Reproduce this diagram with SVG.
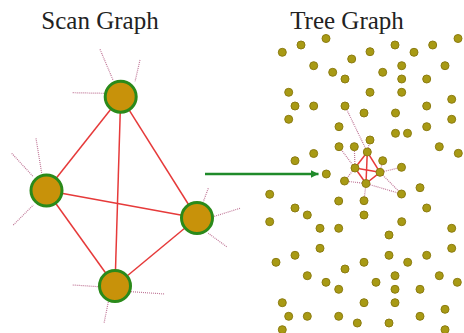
<svg xmlns="http://www.w3.org/2000/svg" width="464" height="333" viewBox="0 0 464 333">
<style>
.title{font-family:"Liberation Serif","Times New Roman",serif;font-size:25px;fill:#222;text-anchor:middle}
.edge{stroke:#e63a3a;stroke-width:1.5;fill:none}
.stub{stroke:#c07898;stroke-width:1.2;stroke-dasharray:1 1;fill:none}
.big{fill:#c8920a;stroke:#2a8a1a;stroke-width:3}
.dot{fill:#a89a14;stroke:#8c7c12;stroke-width:1}
</style>
<defs>
<marker id="ah" viewBox="0 0 10 10" refX="10" refY="5" markerWidth="3" markerHeight="3.2" orient="auto" markerUnits="strokeWidth">
<path d="M0,0 L10,5 L0,10 z" fill="#1f8a2a"/>
</marker>
</defs>
<rect width="464" height="333" fill="#fff"/>
<text class="title" x="100" y="29">Scan Graph</text>
<text class="title" x="347" y="29">Tree Graph</text>

<g id="scan-connectors">
<line class="edge" x1="120.7" y1="96.7" x2="46.5" y2="190.5"/>
<line class="edge" x1="120.7" y1="96.7" x2="197" y2="218"/>
<line class="edge" x1="120.7" y1="96.7" x2="115" y2="286"/>
<line class="edge" x1="46.5" y1="190.5" x2="197" y2="218"/>
<line class="edge" x1="46.5" y1="190.5" x2="115" y2="286"/>
<line class="edge" x1="197" y1="218" x2="115" y2="286"/>
<line class="stub" x1="72.7" y1="92.7" x2="104" y2="93.3"/>
<line class="stub" x1="100" y1="49.3" x2="113" y2="80"/>
<line class="stub" x1="140" y1="60" x2="135" y2="81.7"/>
<line class="stub" x1="11.7" y1="153.3" x2="33.3" y2="176.7"/>
<line class="stub" x1="36" y1="138.3" x2="41.7" y2="173.3"/>
<line class="stub" x1="13.3" y1="225" x2="33.3" y2="205"/>
<line class="stub" x1="208.3" y1="188.3" x2="203.3" y2="201.7"/>
<line class="stub" x1="240" y1="208.3" x2="213.3" y2="216.7"/>
<line class="stub" x1="226.7" y1="246.7" x2="208.3" y2="233.3"/>
<line class="stub" x1="72.7" y1="285" x2="99" y2="286.7"/>
<line class="stub" x1="131" y1="291.7" x2="165" y2="294"/>
<line class="stub" x1="108.3" y1="302" x2="104" y2="323.3"/>
</g>
<g id="scan-top"><circle class="big" cx="120.7" cy="96.7" r="15.5"/></g>
<g id="scan-left"><circle class="big" cx="46.5" cy="190.5" r="15.5"/></g>
<g id="scan-right"><circle class="big" cx="197" cy="218" r="15.5"/></g>
<g id="scan-bottom"><circle class="big" cx="115" cy="286" r="15.5"/></g>

<g id="arrow">
<line x1="205" y1="174" x2="318.5" y2="174" stroke="#1f8a2a" stroke-width="2.5" marker-end="url(#ah)"/>
</g>

<g id="tree-connectors">
<line class="stub" x1="367.3" y1="152" x2="345" y2="106"/>
<line class="stub" x1="367.3" y1="152" x2="370" y2="140"/>
<line class="stub" x1="355" y1="168" x2="339" y2="146.7"/>
<line class="stub" x1="355" y1="168" x2="354.3" y2="146.7"/>
<line class="stub" x1="355" y1="168" x2="344.5" y2="181"/>
<line class="stub" x1="380" y1="172.3" x2="382.7" y2="160.7"/>
<line class="stub" x1="380" y1="172.3" x2="401.5" y2="167.3"/>
<line class="stub" x1="380" y1="172.3" x2="401.5" y2="194"/>
<line class="stub" x1="366" y1="183.5" x2="344.5" y2="181"/>
<line class="stub" x1="366" y1="183.5" x2="401.5" y2="194"/>
<line class="stub" x1="366" y1="183.5" x2="364" y2="200.5"/>
<line class="edge" x1="367.3" y1="152" x2="355" y2="168"/>
<line class="edge" x1="367.3" y1="152" x2="380" y2="172.3"/>
<line class="edge" x1="367.3" y1="152" x2="366" y2="183.5"/>
<line class="edge" x1="355" y1="168" x2="380" y2="172.3"/>
<line class="edge" x1="355" y1="168" x2="366" y2="183.5"/>
<line class="edge" x1="380" y1="172.3" x2="366" y2="183.5"/>
</g>

<g id="tree-nodes">
<circle class="dot" cx="282.3" cy="52.3" r="4"/>
<circle class="dot" cx="301" cy="45" r="4"/>
<circle class="dot" cx="326" cy="38.5" r="4"/>
<circle class="dot" cx="370" cy="51.7" r="4"/>
<circle class="dot" cx="395" cy="45" r="4"/>
<circle class="dot" cx="414" cy="52.3" r="4"/>
<circle class="dot" cx="432.7" cy="45" r="4"/>
<circle class="dot" cx="458" cy="38.5" r="4"/>
<circle class="dot" cx="313.7" cy="65.7" r="4"/>
<circle class="dot" cx="351.7" cy="59" r="4"/>
<circle class="dot" cx="332.7" cy="72.3" r="4"/>
<circle class="dot" cx="345" cy="79" r="4"/>
<circle class="dot" cx="382.7" cy="72.3" r="4"/>
<circle class="dot" cx="401.7" cy="65.7" r="4"/>
<circle class="dot" cx="401.7" cy="79" r="4"/>
<circle class="dot" cx="426.7" cy="79" r="4"/>
<circle class="dot" cx="445" cy="65.7" r="4"/>
<circle class="dot" cx="288.7" cy="92.3" r="4"/>
<circle class="dot" cx="370" cy="92.3" r="4"/>
<circle class="dot" cx="401.7" cy="92.3" r="4"/>
<circle class="dot" cx="295" cy="106" r="4"/>
<circle class="dot" cx="313.7" cy="106" r="4"/>
<circle class="dot" cx="345" cy="106" r="4"/>
<circle class="dot" cx="364" cy="113" r="4"/>
<circle class="dot" cx="395.5" cy="113" r="4"/>
<circle class="dot" cx="426.7" cy="106" r="4"/>
<circle class="dot" cx="451.7" cy="99.3" r="4"/>
<circle class="dot" cx="288.7" cy="119.3" r="4"/>
<circle class="dot" cx="339" cy="126.7" r="4"/>
<circle class="dot" cx="395.5" cy="133.3" r="4"/>
<circle class="dot" cx="407.5" cy="133.3" r="4"/>
<circle class="dot" cx="426.7" cy="126.7" r="4"/>
<circle class="dot" cx="451.7" cy="119.3" r="4"/>
<circle class="dot" cx="370" cy="140" r="4"/>
<circle class="dot" cx="339" cy="146.7" r="4"/>
<circle class="dot" cx="354.3" cy="146.7" r="4"/>
<circle class="dot" cx="439.3" cy="146.7" r="4"/>
<circle class="dot" cx="458.3" cy="153.3" r="4"/>
<circle class="dot" cx="313.7" cy="153.5" r="4"/>
<circle class="dot" cx="295" cy="160.7" r="4"/>
<circle class="dot" cx="382.7" cy="160.7" r="4"/>
<circle class="dot" cx="401.5" cy="167.3" r="4"/>
<circle class="dot" cx="326.3" cy="174" r="4"/>
<circle class="dot" cx="344.5" cy="181" r="4"/>
<circle class="dot" cx="401.5" cy="194" r="4"/>
<circle class="dot" cx="420" cy="187.7" r="4"/>
<circle class="dot" cx="269.7" cy="194.3" r="4"/>
<circle class="dot" cx="338.7" cy="201" r="4"/>
<circle class="dot" cx="364" cy="200.7" r="4"/>
<circle class="dot" cx="295" cy="208" r="4"/>
<circle class="dot" cx="307.3" cy="215" r="4"/>
<circle class="dot" cx="364" cy="215" r="4"/>
<circle class="dot" cx="426.7" cy="208" r="4"/>
<circle class="dot" cx="269.7" cy="221.7" r="4"/>
<circle class="dot" cx="401.7" cy="221.7" r="4"/>
<circle class="dot" cx="320" cy="228.3" r="4"/>
<circle class="dot" cx="338.7" cy="228.3" r="4"/>
<circle class="dot" cx="451.7" cy="228.3" r="4"/>
<circle class="dot" cx="389" cy="235" r="4"/>
<circle class="dot" cx="320" cy="248.3" r="4"/>
<circle class="dot" cx="451.7" cy="248.3" r="4"/>
<circle class="dot" cx="295" cy="255.3" r="4"/>
<circle class="dot" cx="389" cy="255.3" r="4"/>
<circle class="dot" cx="426.7" cy="255.3" r="4"/>
<circle class="dot" cx="276" cy="262.3" r="4"/>
<circle class="dot" cx="364" cy="262.3" r="4"/>
<circle class="dot" cx="407.7" cy="262.3" r="4"/>
<circle class="dot" cx="345" cy="269" r="4"/>
<circle class="dot" cx="307.3" cy="275.7" r="4"/>
<circle class="dot" cx="395" cy="275.7" r="4"/>
<circle class="dot" cx="439.3" cy="275.7" r="4"/>
<circle class="dot" cx="326" cy="282.3" r="4"/>
<circle class="dot" cx="376" cy="282.3" r="4"/>
<circle class="dot" cx="457.3" cy="282.3" r="4"/>
<circle class="dot" cx="338.7" cy="289.3" r="4"/>
<circle class="dot" cx="395" cy="289.3" r="4"/>
<circle class="dot" cx="420" cy="289.3" r="4"/>
<circle class="dot" cx="282.3" cy="302.7" r="4"/>
<circle class="dot" cx="364" cy="302.7" r="4"/>
<circle class="dot" cx="395" cy="302.7" r="4"/>
<circle class="dot" cx="445" cy="309.3" r="4"/>
<circle class="dot" cx="288.7" cy="316.3" r="4"/>
<circle class="dot" cx="307.3" cy="316.3" r="4"/>
<circle class="dot" cx="338.7" cy="316.3" r="4"/>
<circle class="dot" cx="420" cy="316.3" r="4"/>
<circle class="dot" cx="357.3" cy="323" r="4"/>
<circle class="dot" cx="389" cy="323" r="4"/>
<circle class="dot" cx="282.3" cy="329.7" r="4"/>
<circle class="dot" cx="445" cy="329.7" r="4"/>
</g>
<g id="tree-scan-top"><circle class="dot" cx="367.3" cy="152" r="4"/></g>
<g id="tree-scan-left"><circle class="dot" cx="355" cy="168" r="4"/></g>
<g id="tree-scan-right"><circle class="dot" cx="380" cy="172.3" r="4"/></g>
<g id="tree-scan-bottom"><circle class="dot" cx="366" cy="183.5" r="4"/></g>
</svg>
